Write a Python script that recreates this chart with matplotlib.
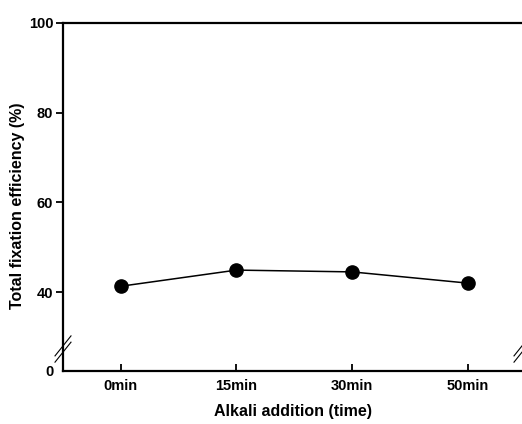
import matplotlib
matplotlib.use("Agg")
import matplotlib.pyplot as plt

categories = ["0min", "15min", "30min", "50min"]
values = [41.3, 44.9, 44.5, 42.0]
ytick_vals = [40, 60, 80, 100]
ytick_labels = ["40", "60", "80", "100"]
y_bottom = 22.4
bottom_label = "0"

plt.rcParams['font.family'] = ['Liberation Sans', 'DejaVu Sans']
plt.rcParams['font.weight'] = 'bold'

fig = plt.figure(figsize=(5.22, 4.24), dpi=100)
ax = fig.add_axes([63/522, 1-371/424, 1-63/522, (371-23)/424])

x = list(range(len(categories)))
ax.plot(x, values, color='black', lw=1.1, marker='o', ms=9.5, mfc='black', mec='black', zorder=3)

ax.set_xlim(-0.5, 3.47)
ax.set_ylim(y_bottom, 100)
ax.set_xticks(x)
ax.set_xticklabels(categories, fontsize=10.5, fontweight='bold')
ax.set_yticks([y_bottom] + ytick_vals)
ax.set_yticklabels([bottom_label] + ytick_labels, fontsize=10.5, fontweight='bold')
ax.tick_params(axis='x', direction='in', length=5, width=1.3, pad=6)
ax.tick_params(axis='y', direction='out', length=5, width=1.3, pad=2)
ax.yaxis.get_major_ticks()[0].tick1line.set_visible(False)

for s in ['left', 'bottom', 'top']:
    ax.spines[s].set_linewidth(1.6)
ax.spines['right'].set_visible(False)

ax.set_xlabel("Alkali addition (time)", fontsize=11.5, fontweight='bold', labelpad=8)
ax.set_ylabel("Total fixation efficiency (%)", fontsize=11.5, fontweight='bold')
ax.yaxis.set_label_coords(-0.082, 0.475)

# break marks
trans = ax.transAxes
yb = (27.3 - y_bottom) / (100 - y_bottom)
dx, dy = 8/459, 10/348
for off in (-0.009, 0.009):
    ax.plot([-dx, dx], [yb + off - dy, yb + off + dy], transform=trans, color='black', lw=0.8, clip_on=False)
    ax.plot([1 - dx, 1 + dx], [yb + off - dy, yb + off + dy], transform=trans, color='black', lw=0.8, clip_on=False)

fig.savefig("out.png", dpi=100)
